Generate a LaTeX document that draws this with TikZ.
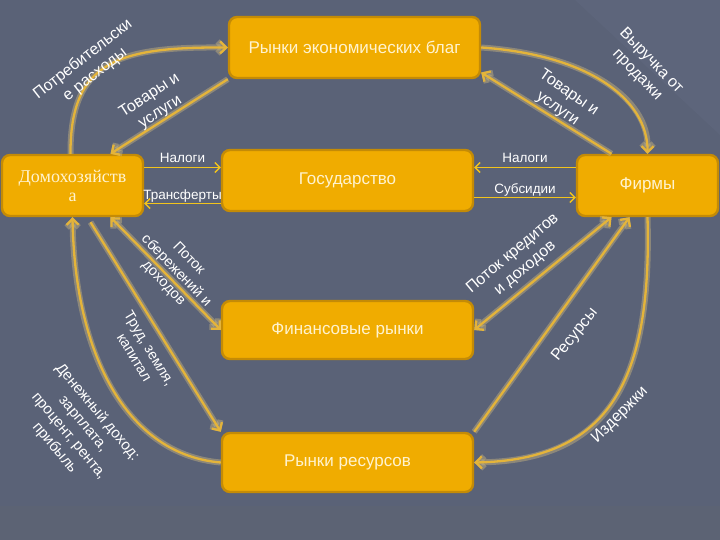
\documentclass[tikz,border=0pt]{standalone}
\usepackage{fontspec}
\setmainfont{Liberation Sans}
\newfontfamily\serifcyr{Liberation Serif}
\usepackage{xcolor}
\usetikzlibrary{arrows.meta}

\definecolor{slate}{HTML}{5A6277}
\definecolor{slatelight}{HTML}{5D657B}
\definecolor{slatelow}{HTML}{5C6374}
\definecolor{boxfill}{HTML}{F0AC00}
\definecolor{boxline}{HTML}{C48B06}
\definecolor{boxtext}{HTML}{FFF3CF}
\definecolor{flowc}{HTML}{E4B43A}
\definecolor{glowc}{HTML}{C9B67E}
\definecolor{thinc}{HTML}{F2C41C}

\begin{document}
\begin{tikzpicture}[x=1pt, y=-1pt,
  every node/.style={font=\fontsize{16}{19.5}\selectfont, text=white},
  market/.style={draw=boxline, fill=boxfill, line width=2.4pt, rounded corners=8pt,
    minimum width=251pt, minimum height=61pt, text=boxtext,
    font=\fontsize{17}{20}\selectfont},
  agent/.style={market, minimum width=141pt},
  flow/.style={draw=flowc, line width=2.3pt,
    preaction={draw=glowc, line width=6pt, opacity=.45}},
  cash/.style={draw=thinc, line width=1.4pt, -{Straight Barb[length=5pt,width=10pt]}},
  lbl/.style={align=center},
  small/.style={font=\fontsize{13.5}{15}\selectfont, inner sep=0pt},
  >={Straight Barb[length=6pt,width=12pt]}
]
% Background
\fill[slate] (0,0) rectangle (720,540);
\fill[slatelight] (575,0) -- (720,0) -- (720,135) -- cycle;
\fill[slatelow] (0,506) rectangle (720,540);

% Markets and agents
\node[market] (gm) at (354.5,47.5) {Рынки экономических благ};
\node[market] (gov) at (347.5,180.5) {Государство};
\node[market, minimum height=58pt] (fm) at (347.5,330) {Финансовые рынки};
\node[market, minimum height=59pt] (rm) at (347.5,462.5) {Рынки ресурсов};
\node[agent, align=center, font=\serifcyr\fontsize{18}{19}\selectfont] (hh) at (72.5,185.5) {Домохозяйств\\а};
\node[agent] (fi) at (647.5,185.5) {Фирмы};

% Goods market
\draw[flow,->] ([xshift=-2pt]hh.north) .. controls (70,60) and (120,47) .. (gm.west);
\draw[flow,->] (gm.south west) -- ([xshift=38pt]hh.north);
\draw[flow,->] ([xshift=-36pt]fi.north) -- ([yshift=-25pt]gm.east);
\draw[flow,->] (gm.east) .. controls (590,55) and (648,100) .. (fi.north);

% State
\draw[cash] ([yshift=18pt]hh.east) -- ([yshift=18pt]hh.east -| gov.west)
  node[midway, above=4pt, small] (taxL) {Налоги};
\draw[cash] ([yshift=-18pt]hh.east -| gov.west) -- ([yshift=-18pt]hh.east)
  node[midway, above, small] (transf) {Трансферты};
\draw[cash] ([yshift=18pt]fi.west) -- ([yshift=18pt]fi.west -| gov.east)
  node[midway, above=4pt, small] (taxR) {Налоги};
\draw[cash] ([yshift=-12pt]fi.west -| gov.east) -- ([yshift=-12pt]fi.west)
  node[midway, above, small] (subs) {Субсидии};

% Financial and resource markets
\draw[flow,<->] ([xshift=38pt]hh.south) -- (fm.west);
\draw[flow,->] ([xshift=18pt,yshift=-5pt]hh.south) -- (rm.north west);
\draw[flow,->] (rm.west) .. controls (130,455) and (75,360) .. (hh.south);
\draw[flow,<->] ([xshift=-36pt]fi.south) -- (fm.east);
\draw[flow,->] (rm.north east) -- ([xshift=-18pt]fi.south);
\draw[flow,->] (fi.south) .. controls (652,380) and (610,460) .. (rm.east);

% Flow labels
\node[lbl, rotate=38] (spend) at (89,67) {Потребительски\\е расходы};
\node[lbl, rotate=33] (goodsL) at (155,104) {Товары и\\услуги};
\node[lbl, rotate=-35] (goodsR) at (563,101) {Товары и\\услуги};
\node[lbl, rotate=-46] (revenue) at (644,68) {Выручка от\\продажи};
\node[lbl, rotate=-46, font=\fontsize{14.5}{17.5}\selectfont] (savings) at (176,271) {Поток\\сбережений и\\доходов};
\node[lbl, rotate=-59, font=\fontsize{14.5}{17.5}\selectfont] (labour) at (142,353) {Труд, земля,\\капитал};
\node[lbl, rotate=-50, font=\fontsize{15}{18.5}\selectfont] (income) at (76,430) {Денежный доход:\\зарплата,\\процент, рента,\\прибыль};
\node[lbl, rotate=40] (credit) at (519,261) {Поток кредитов\\и доходов};
\node[lbl, rotate=51] (res) at (575,335) {Ресурсы};
\node[lbl, rotate=45] (costs) at (620,415) {Издержки};
\end{tikzpicture}
\end{document}
